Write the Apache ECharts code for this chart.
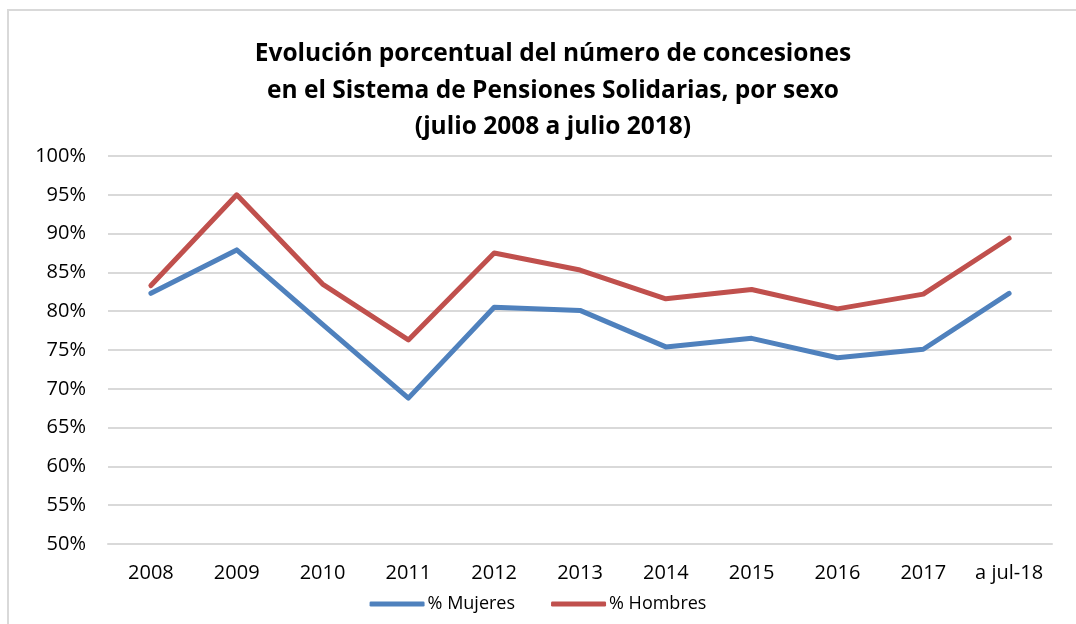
<!DOCTYPE html>
<html>
<head>
<meta charset="utf-8">
<script src="https://cdn.jsdelivr.net/npm/echarts@6/dist/echarts.min.js"></script>
<style>
  html, body { margin: 0; padding: 0; background: #fff; }
  #main { width: 1076px; height: 624px; }
  /* marco gris del gráfico (solo arriba e izquierda) */
  .marco {
    position: absolute; left: 7px; top: 9px; width: 1069px; height: 615px;
    border-left: 2px solid #d9d9d9; border-top: 2px solid #d9d9d9;
    pointer-events: none;
  }
</style>
</head>
<body>
<div id="main"></div>
<div class="marco"></div>
<script>
// datos
const categorias = ['2008', '2009', '2010', '2011', '2012', '2013', '2014', '2015', '2016', '2017', 'a jul-18'];
const mujeres = [82.3, 87.9, 78.3, 68.8, 80.5, 80.1, 75.4, 76.5, 74.0, 75.1, 82.3];
const hombres = [83.3, 95.0, 83.5, 76.3, 87.5, 85.3, 81.6, 82.8, 80.3, 82.2, 89.4];

const chart = echarts.init(document.getElementById('main'));
const option = {
  animation: false,
  title: {
    text: 'Evolución porcentual del número de concesiones\nen el Sistema de Pensiones Solidarias, por sexo\n(julio 2008 a julio 2018)',
    left: 548,
    top: 31,
    textAlign: 'center',
    textStyle: {
      fontFamily: 'Open Sans',
      fontWeight: 'bold',
      fontSize: 24.5,
      lineHeight: 36.5,
      color: '#000'
    }
  },
  grid: {
    left: 108,
    right: 24,
    top: 156,
    bottom: 80
  },
  legend: {
    bottom: 6,
    left: 'center',
    icon: 'roundRect',
    itemWidth: 55,
    itemHeight: 5,
    itemGap: 36,
    textStyle: { fontFamily: 'Open Sans', fontSize: 18, color: '#000', padding: [0, 0, 0, -2] },
    data: ['% Mujeres', '% Hombres']
  },
  xAxis: {
    type: 'category',
    data: categorias,
    axisLine: { lineStyle: { color: '#d9d9d9', width: 2 } },
    axisTick: { show: false },
    axisLabel: { interval: 0, fontFamily: 'Open Sans', fontSize: 20, color: '#000', margin: 19 }
  },
  yAxis: {
    type: 'value',
    min: 50,
    max: 100,
    interval: 5,
    axisLine: { show: false },
    axisTick: { show: false },
    splitLine: { lineStyle: { color: '#d9d9d9', width: 2 } },
    axisLabel: { fontFamily: 'Open Sans', fontSize: 20, color: '#000', margin: 22, formatter: '{value}%' }
  },
  series: [
    {
      name: '% Mujeres',
      type: 'line',
      data: mujeres,
      symbol: 'none',
      lineStyle: { color: '#4F81BD', width: 5, cap: 'round', join: 'round' },
      itemStyle: { color: '#4F81BD' }
    },
    {
      name: '% Hombres',
      type: 'line',
      data: hombres,
      symbol: 'none',
      lineStyle: { color: '#C0504D', width: 5, cap: 'round', join: 'round' },
      itemStyle: { color: '#C0504D' }
    }
  ]
};
chart.setOption(option);
</script>
</body>
</html>
